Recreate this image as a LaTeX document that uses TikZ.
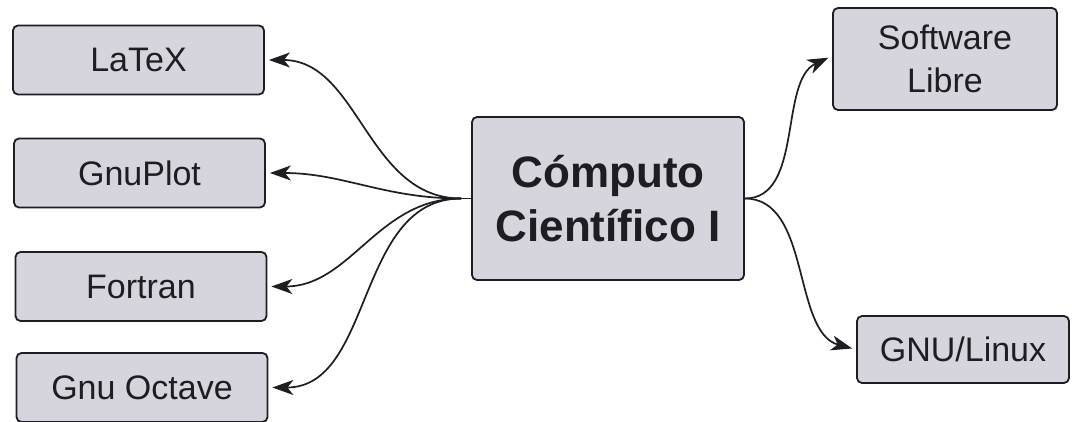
\documentclass[tikz,border=0pt]{standalone}
\usepackage{fontspec}
\setmainfont{Liberation Sans}
\usetikzlibrary{positioning,arrows.meta}
\definecolor{boxfill}{HTML}{D6D5DD}
\definecolor{boxline}{HTML}{1E1E22}
\tikzset{
  topicbox/.style={draw=boxline, fill=boxfill, rounded corners=5pt, line width=1.8pt,
    align=center, text=boxline, inner sep=2pt, minimum width=251pt, minimum height=69pt,
    font=\fontsize{34}{43}\selectfont},
  mainbox/.style={topicbox, minimum width=272pt, minimum height=163pt,
    font=\fontsize{44}{54}\selectfont\bfseries},
  link/.style={-{Stealth[length=21pt, width=15pt, inset=6pt]}, line width=1.7pt,
    draw=boxline, shorten >=4pt},
}
\begin{document}
\begin{tikzpicture}[x=1pt, y=-1pt]
\useasboundingbox[fill=white] (0,0) rectangle (1072,422);
% central topic
\node[mainbox] (cc) at (608,198.5) {Cómputo\\Científico I};
% tools on the left
\node[topicbox] (latex) at (138.5,60) {LaTeX};
\node[topicbox] (gnuplot) at (139.5,173) {GnuPlot};
\node[topicbox] (fortran) at (141,286.5) {Fortran};
\node[topicbox] (octave) at (142,387.5) {Gnu Octave};
% topics on the right
\node[topicbox, minimum width=224pt, minimum height=102pt] (libre) at (945,59) {Software\\Libre};
\node[topicbox, minimum width=212pt, minimum height=67pt] (linux) at (963,349.5) {GNU/Linux};
% branches
\coordinate (lhub) at ([xshift=-10pt]cc.west);
\draw[line width=1.7pt, draw=boxline] (cc.west) -- (lhub);
\draw[link] (lhub) to[out=180, in=0] (latex.east);
\draw[link] (lhub) to[out=180, in=0] (gnuplot.east);
\draw[link] (lhub) to[out=180, in=0] (fortran.east);
\draw[link] (lhub) to[out=180, in=0] (octave.east);
\draw[link] (cc.east) to[out=0, in=205, looseness=0.9] ([yshift=3pt]libre.west);
\draw[link] (cc.east) to[out=0, in=165, looseness=0.9] (linux.west);
\end{tikzpicture}
\end{document}
